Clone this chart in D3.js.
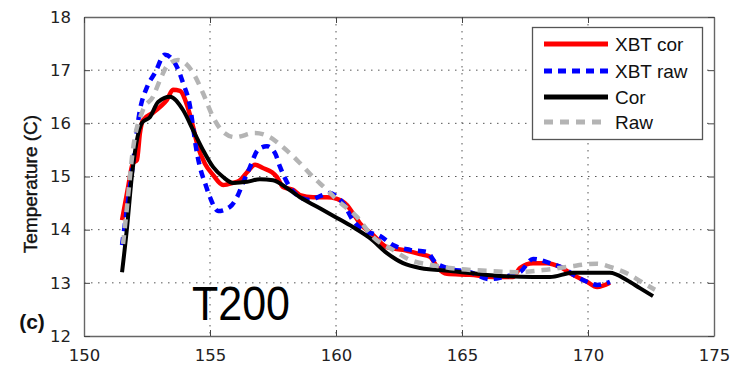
<!DOCTYPE html>
<html><head><meta charset="utf-8">
<script src="https://cdn.jsdelivr.net/npm/d3@7"></script>
<style>body{margin:0;background:#fff}svg{display:block}</style>
</head><body>
<svg id="c" width="733" height="365"></svg>
<script>
// ---- data ----
const xbtCorLon = [151.51,151.75,151.94,152.10,152.22,152.34,152.74,153.02,153.29,153.53,153.81,154.09,154.33,154.52,154.80,155.12,155.52,155.91,156.19,156.47,156.79,157.10,157.46,157.66,157.90,158.29,158.57,159.09,159.64,160.04,160.44,160.67,160.95,161.47,162.02,162.66,163.33,163.73,164.01,164.40,165.32,166.23,167.02,167.30,167.82,168.37,168.89,169.40,169.96,170.36,170.87];
const xbtCorT   = [14.18,14.80,15.25,15.31,15.82,16.06,16.20,16.31,16.44,16.63,16.61,16.34,15.93,15.56,15.24,15.03,14.84,14.88,14.93,15.08,15.22,15.16,15.08,14.99,14.80,14.75,14.65,14.61,14.61,14.58,14.46,14.31,14.12,13.90,13.67,13.62,13.54,13.49,13.30,13.17,13.15,13.11,13.11,13.28,13.37,13.37,13.30,13.15,13.02,12.92,13.00];

const xbtRawLon = [151.51,151.90,152.22,152.50,152.82,153.21,153.69,153.93,154.21,154.33,154.44,154.60,154.80,155.00,155.32,155.79,156.07,156.31,156.59,156.90,157.26,157.58,157.78,158.17,158.57,158.97,159.37,159.76,160.00,160.28,160.67,161.07,161.75,162.26,162.94,163.61,163.93,164.40,165.32,166.11,166.63,167.30,167.82,168.49,169.01,169.56,170.08,170.36,170.87];
const xbtRawT   = [13.71,15.08,16.25,16.68,16.95,17.29,17.06,16.76,16.31,15.93,15.56,15.18,14.88,14.61,14.35,14.43,14.61,14.88,15.18,15.50,15.57,15.44,15.18,14.80,14.61,14.56,14.63,14.69,14.63,14.50,14.18,13.99,13.88,13.71,13.62,13.58,13.39,13.28,13.20,13.07,13.11,13.20,13.45,13.37,13.28,13.11,13.00,12.96,13.02];

const corLon = [151.51,151.71,151.90,152.30,152.62,152.94,153.41,153.93,154.33,154.72,155.12,155.52,155.91,156.47,156.98,157.50,158.06,158.57,159.25,160.04,160.67,161.35,162.02,162.66,163.33,164.64,166.51,167.82,168.49,169.40,170.87,171.55,172.06,172.58];
const corT   = [13.20,14.05,15.01,16.01,16.12,16.40,16.50,16.25,15.87,15.50,15.18,14.99,14.88,14.90,14.95,14.93,14.78,14.61,14.43,14.22,14.05,13.84,13.56,13.37,13.28,13.22,13.13,13.11,13.11,13.19,13.19,13.05,12.90,12.75];

const rawLon = [151.55,151.70,151.94,152.34,152.74,153.02,153.33,153.73,154.33,154.72,155.12,155.52,155.99,156.79,157.38,157.90,158.45,159.09,159.64,160.04,160.83,161.47,162.26,162.94,163.73,164.52,166.23,167.18,168.21,169.17,170.36,170.87,171.67,172.18,172.66];
const rawT   = [13.73,14.40,15.50,16.25,16.50,16.82,17.10,17.19,16.95,16.57,16.12,15.84,15.74,15.82,15.74,15.55,15.31,14.99,14.75,14.56,14.24,13.86,13.62,13.43,13.34,13.28,13.22,13.20,13.24,13.30,13.36,13.30,13.15,13.00,12.87];

const xTicks = [150,155,160,165,170,175];
const yTicks = [12,13,14,15,16,17,18];
const seriesNames = ["XBT cor","XBT raw","Cor","Raw"];

// ---- layout ----
const L = 84, R = 714, T = 17, B = 336;
const svg = d3.select("#c");
const x = d3.scaleLinear().domain([150,175]).range([L,R]);
const y = d3.scaleLinear().domain([12,18]).range([B,T]);

// grid
const g = svg.append("g");
g.selectAll(".gx").data(xTicks.slice(1,-1)).join("line")
  .attr("x1",d=>x(d)).attr("x2",d=>x(d)).attr("y1",T).attr("y2",B)
  .attr("stroke","#555").attr("stroke-width",1).attr("stroke-dasharray","1.5,5.5");
g.selectAll(".gy").data(yTicks.slice(1,-1)).join("line")
  .attr("y1",d=>y(d)).attr("y2",d=>y(d)).attr("x1",L).attr("x2",R)
  .attr("stroke","#555").attr("stroke-width",1).attr("stroke-dasharray","1.5,5.5");

// axes
const fontTick = "DejaVu Sans";
const fmt = d3.format("d");
svg.append("g").attr("transform",`translate(0,${B})`)
  .call(d3.axisBottom(x).tickValues(xTicks).tickFormat(fmt).tickSizeInner(-6).tickSizeOuter(0).tickPadding(13));
svg.append("g").attr("transform",`translate(${L},0)`)
  .call(d3.axisLeft(y).tickValues(yTicks).tickFormat(fmt).tickSizeInner(-6).tickSizeOuter(0).tickPadding(13));
svg.append("g").attr("transform",`translate(0,${T})`)
  .call(d3.axisTop(x).tickValues(xTicks).tickSizeInner(-6).tickSizeOuter(0).tickFormat(""));
svg.append("g").attr("transform",`translate(${R},0)`)
  .call(d3.axisRight(y).tickValues(yTicks).tickSizeInner(-6).tickSizeOuter(0).tickFormat(""));
svg.selectAll(".domain").attr("stroke","#666").attr("stroke-width",1.4);
svg.selectAll(".tick line").attr("stroke","#444");
svg.selectAll(".tick text").attr("font-family",fontTick).attr("font-size","16.5px").attr("fill","#222");

// lines
const line = d3.line().x(d=>x(d[0])).y(d=>y(d[1])).curve(d3.curveMonotoneX);
const zip = (a,b)=>a.map((v,i)=>[v,b[i]]);
const series = [
  {name:seriesNames[0], data:zip(xbtCorLon,xbtCorT), color:"#ff0000", dash:null, w:4.5},
  {name:seriesNames[1], data:zip(xbtRawLon,xbtRawT), color:"#0000ff", dash:"8,6", w:4.5},
  {name:seriesNames[2], data:zip(corLon,corT), color:"#000000", dash:null, w:4},
  {name:seriesNames[3], data:zip(rawLon,rawT), color:"#b4b4b4", dash:"9,7", w:4.5}
];
svg.append("g").selectAll("path").data(series).join("path")
  .attr("d",d=>line(d.data)).attr("fill","none")
  .attr("stroke",d=>d.color).attr("stroke-width",d=>d.w)
  .attr("stroke-dasharray",d=>d.dash).attr("stroke-linejoin","round");

// legend
const lg = svg.append("g");
lg.append("rect").attr("x",532.5).attr("y",27.5).attr("width",170).attr("height",112)
  .attr("fill","#fff").attr("stroke","#555").attr("stroke-width",1.3);
const ly = [44,71,97,122];
series.forEach((s,i)=>{
  lg.append("line").attr("x1",544).attr("x2",608).attr("y1",ly[i]).attr("y2",ly[i])
    .attr("stroke",s.color).attr("stroke-width",5).attr("stroke-dasharray",s.dash);
  lg.append("text").attr("x",615).attr("y",ly[i]+7).text(s.name)
    .attr("font-family","Liberation Sans").attr("font-size","19px").attr("fill","#111");
});

// labels
svg.append("text").attr("transform","translate(37,184) rotate(-90)")
  .attr("text-anchor","middle").attr("font-family","Liberation Sans").attr("font-size","19px")
  .attr("fill","#111").attr("stroke","#111").attr("stroke-width",0.4).text("Temperature (C)");
svg.append("text").attr("x",32).attr("y",329).attr("text-anchor","middle")
  .attr("font-family","Liberation Sans").attr("font-size","21px").attr("font-weight","bold")
  .attr("fill","#111").text("(c)");
svg.append("text").attr("x",192).attr("y",320).attr("textLength",98).attr("lengthAdjust","spacingAndGlyphs")
  .attr("font-family","Liberation Sans").attr("font-size","48px").attr("fill","#000").text("T200");
</script>
</body></html>
